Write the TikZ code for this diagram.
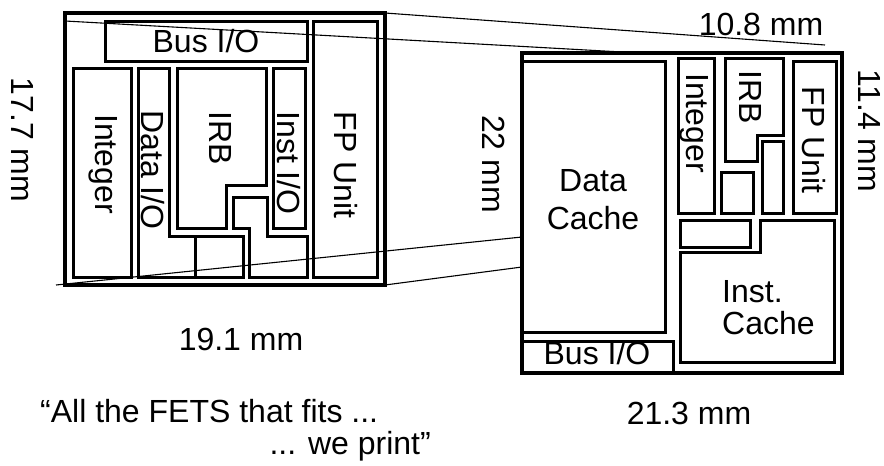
\documentclass[tikz,border=0pt]{standalone}
\usepackage{fontspec}
\setmainfont{Liberation Sans}
\usepackage{tikz}

\begin{document}
\begin{tikzpicture}[
      x=1pt, y=-1pt,
      blk/.style={
        draw=black,
        line width=3pt,
        line join=miter
      },
      chip/.style={
        blk,
        line width=3.5pt
      },
      guide/.style={
        draw=black,
        line width=1.1pt
      },
      lbl/.style={
        inner sep=0pt,
        font=\fontsize{32}{37}\selectfont
      },
      vlbl/.style={
        lbl,
        rotate=-90
      }
    ]

    \useasboundingbox (0,0) rectangle (884,466);

    % left chip
    \draw [chip] (65,13) rectangle (385,285);
    \coordinate (LeftTL) at (65,21);
    \coordinate (LeftTR) at (385,13);
    \coordinate (LeftBL) at (56,285);
    \coordinate (LeftBR) at (385,285);

    \draw [blk] (105,21) rectangle (307,61);
    \node [lbl] (LBus) at (206,41) {Bus I/O};
    \draw [blk] (313,21) rectangle (377,277);
    \node [vlbl] (LFP) at (346,165) {FP Unit};
    \draw [blk] (73,68) rectangle (131,277);
    \node [vlbl] (LInt) at (103,164) {Integer};
    \draw [blk] (138,68) -- (169,68) -- (169,236) -- (243,236) -- (243,277) -- (138,277) -- cycle;
    \draw [blk] (195,236) -- (195,277);
    \node [vlbl] (LDataIO) at (153,170) {Data I/O};
    \draw [blk] (177,68) -- (266,68) -- (266,185) -- (226,185) -- (226,228) -- (177,228) -- cycle;
    \node [vlbl] (LIRB) at (221,138) {IRB};
    \draw [blk] (233,197) -- (267,197) -- (267,236) -- (307,236) -- (307,277) -- (249,277) -- (249,228) -- (233,228) -- cycle;
    \draw [blk] (273,68) rectangle (305,228);
    \node [vlbl] (LInstIO) at (289,163) {Inst I/O};

    % right chip
    \draw [chip] (522,53) rectangle (842,373);
    \coordinate (RightTop) at (640,53);
    \coordinate (RightTR) at (825,45);
    \coordinate (RightL1) at (522,237);
    \coordinate (RightL2) at (522,267);

    \draw [blk] (522,61) rectangle (665,332);
    \node [lbl, align=center, font=\fontsize{32}{38}\selectfont] (RData) at (593,200) {Data\\Cache};
    \draw [blk] (522,341) rectangle (673,373);
    \node [lbl] (RBus) at (597,353) {Bus I/O};
    \draw [blk] (678,58) rectangle (714,213);
    \node [vlbl] (RInt) at (694,123) {Integer};
    \draw [blk] (725,58) -- (783,58) -- (783,135) -- (757,135) -- (757,161) -- (725,161) -- cycle;
    \node [vlbl] (RIRB) at (751,97) {IRB};
    \draw [blk] (721,172) rectangle (753,213);
    \draw [blk] (762,141) rectangle (783,213);
    \draw [blk] (793,61) rectangle (836,213);
    \node [vlbl] (RFP) at (814,140) {FP Unit};
    \draw [blk] (680,220) rectangle (750,247);
    \draw [blk] (760,220) -- (834,220) -- (834,362) -- (680,362) -- (680,252) -- (760,252) -- cycle;
    \node [lbl, align=left, font=\fontsize{32}{32}\selectfont, anchor=west] (RInst) at (722,308) {Inst.\\Cache};

    % projection lines
    \draw [guide] (LeftTL) -- (RightTop);
    \draw [guide] (LeftTR) -- (RightTR);
    \draw [guide] (LeftBL) -- (RightL1);
    \draw [guide] (LeftBR) -- (RightL2);

    % dimensions
    \node [lbl, anchor=base] (DimTop) at (761,35) {10.8 mm};
    \node [vlbl] (DimLeft) at (23,140) {17.7 mm};
    \node [vlbl] (DimMid) at (494,164) {22 mm};
    \node [vlbl] (DimRight) at (869,131) {11.4 mm};
    \node [lbl, anchor=base] (DimBotL) at (241,350) {19.1 mm};
    \node [lbl, anchor=base] (DimBotR) at (689,424) {21.3 mm};

    % motto
    \node [lbl, anchor=base west] (QuoteA) at (40,422) {“All the FETS that fits ...};
    \node [lbl, anchor=base east] (QuoteB) at (431,454) {... we print”};

    \end{tikzpicture}
\end{document}
